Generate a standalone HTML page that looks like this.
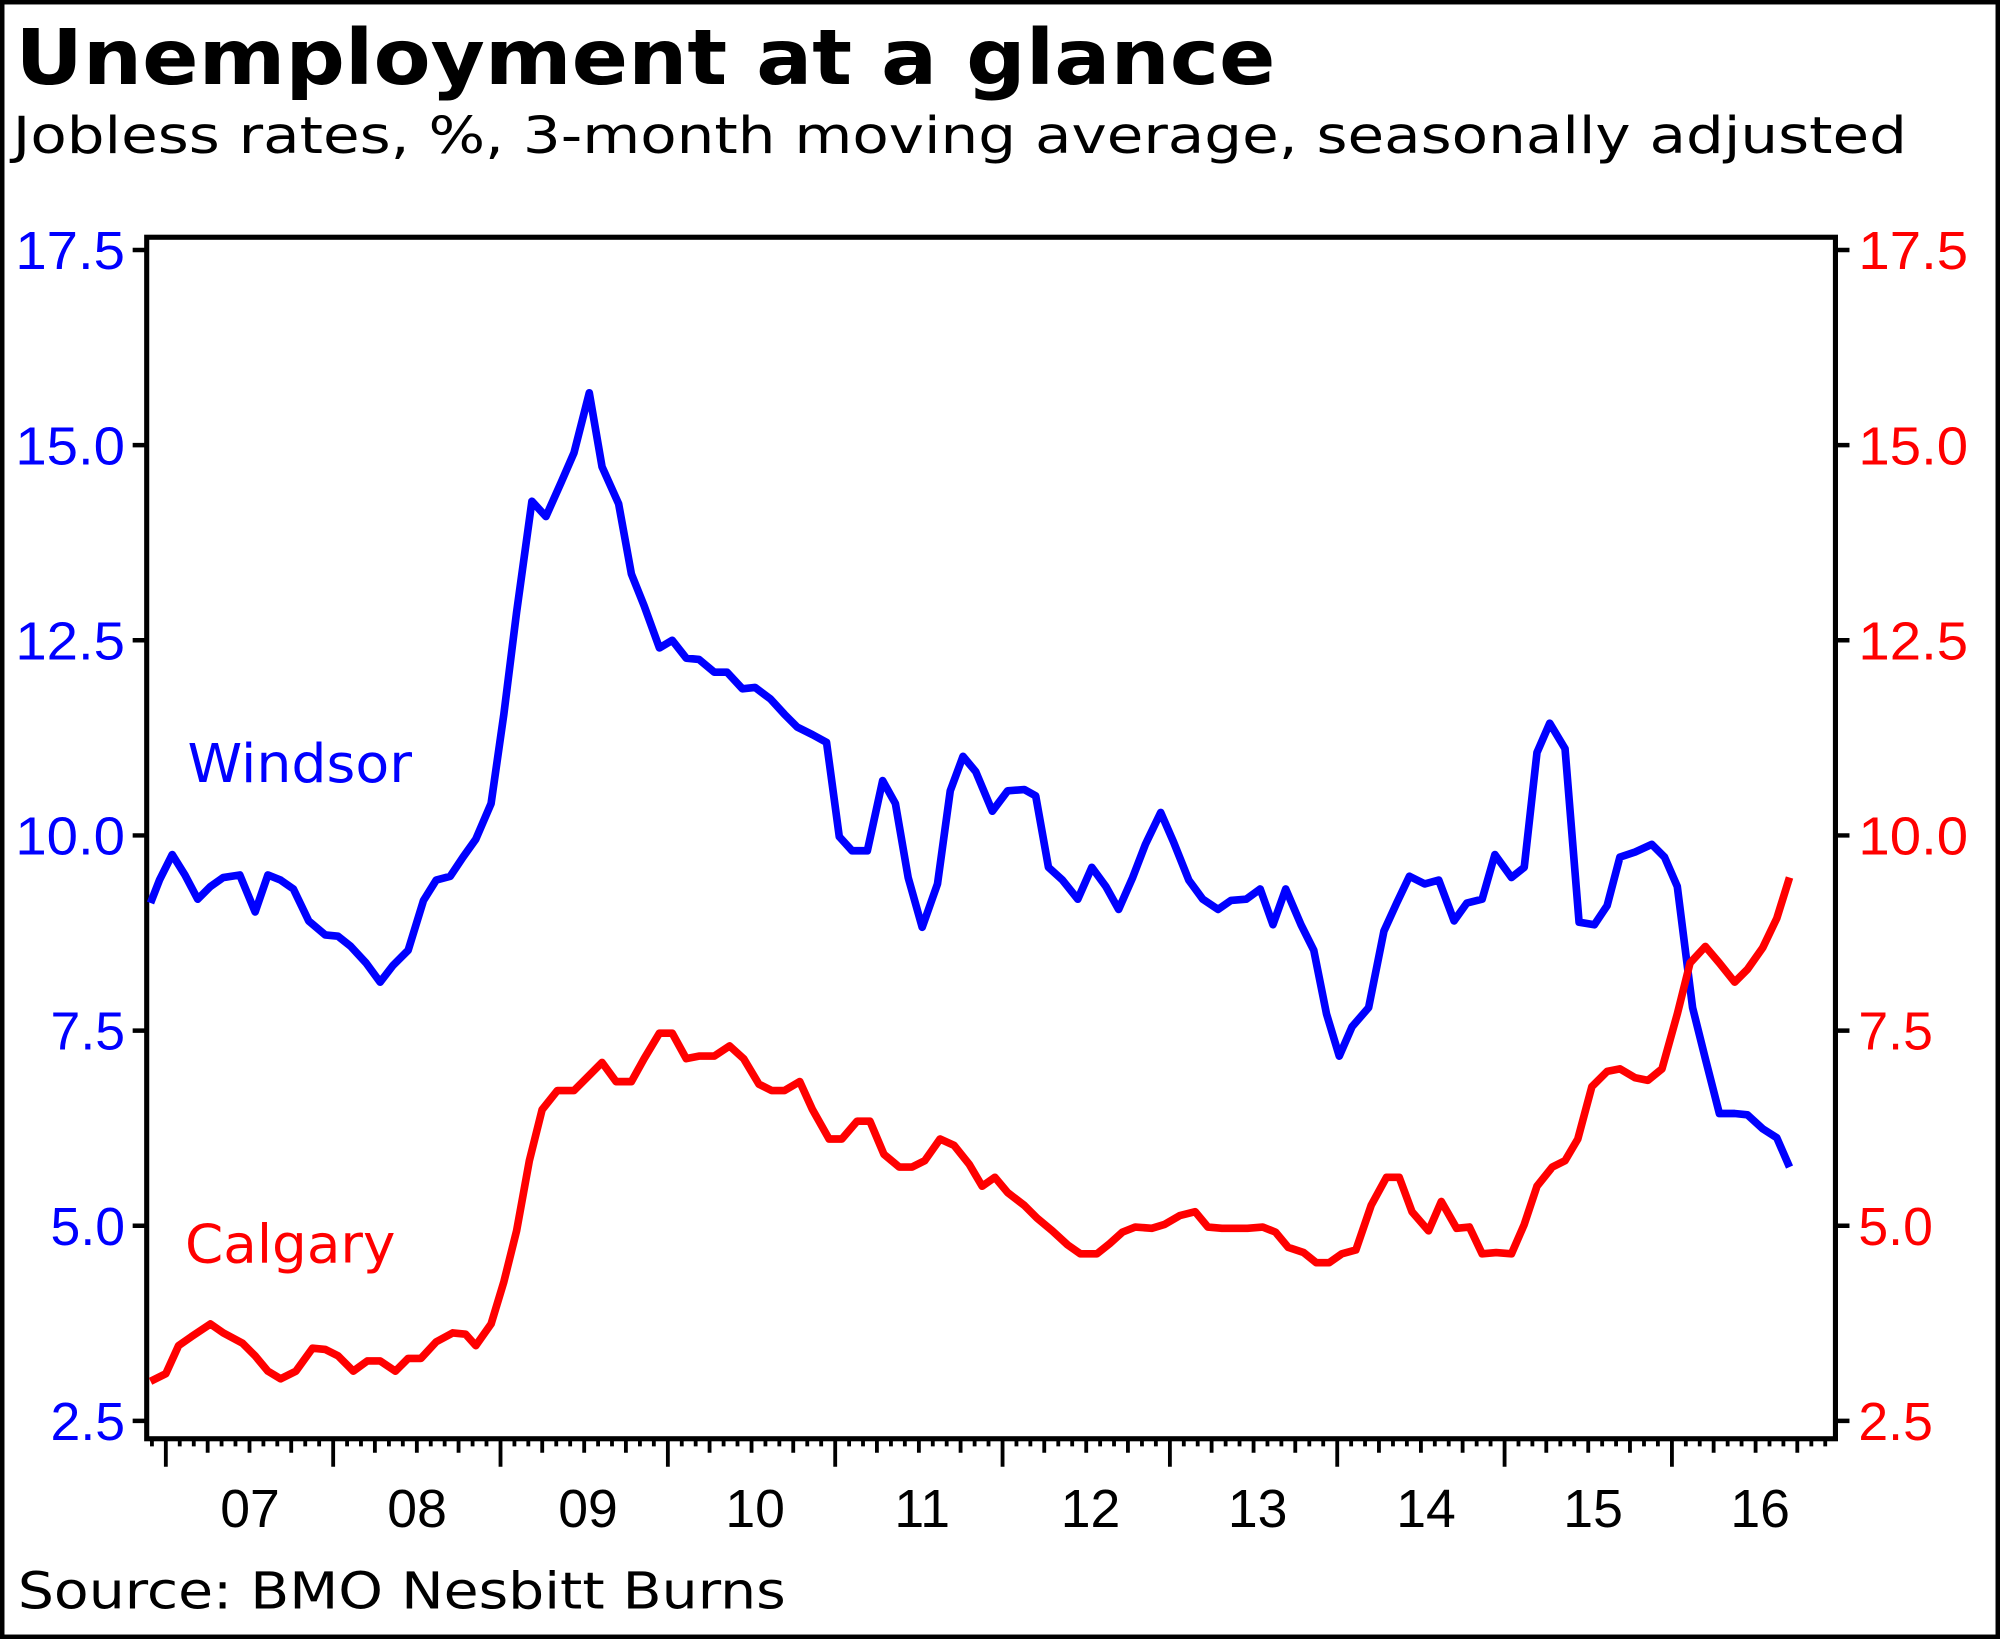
<!DOCTYPE html>
<html><head><meta charset="utf-8"><style>html,body{margin:0;padding:0;background:#fff}svg{display:block}</style></head>
<body>
<svg width="2000" height="1639" viewBox="0 0 1568 1285" xmlns="http://www.w3.org/2000/svg">
<rect x="1.5" y="1.5" width="1565" height="1282" fill="#fff" stroke="#000" stroke-width="4"/>
<text x="12" y="66" font-family="DejaVu Sans, sans-serif" font-weight="bold" font-size="60" textLength="988" lengthAdjust="spacingAndGlyphs">Unemployment at a glance</text>
<text x="10" y="120" font-family="DejaVu Sans, sans-serif" font-size="40" textLength="1485" lengthAdjust="spacingAndGlyphs">Jobless rates, %, 3-month moving average, seasonally adjusted</text>
<text x="14" y="1261" font-family="DejaVu Sans, sans-serif" font-size="40" textLength="602" lengthAdjust="spacingAndGlyphs">Source: BMO Nesbitt Burns</text>
<rect x="115" y="186" width="1324" height="942" fill="none" stroke="#000" stroke-width="4"/>
<g font-family="Liberation Sans, Arial, sans-serif" font-size="42">
<g fill="#0000ff" text-anchor="end">
<text x="98" y="211" textLength="86" lengthAdjust="spacingAndGlyphs">17.5</text><text x="98" y="364" textLength="86" lengthAdjust="spacingAndGlyphs">15.0</text><text x="98" y="517" textLength="86" lengthAdjust="spacingAndGlyphs">12.5</text><text x="98" y="670" textLength="86" lengthAdjust="spacingAndGlyphs">10.0</text><text x="98" y="823">7.5</text><text x="98" y="976">5.0</text><text x="98" y="1129">2.5</text></g>
<g fill="#ff0000">
<text x="1457" y="211" textLength="86" lengthAdjust="spacingAndGlyphs">17.5</text><text x="1457" y="364" textLength="86" lengthAdjust="spacingAndGlyphs">15.0</text><text x="1457" y="517" textLength="86" lengthAdjust="spacingAndGlyphs">12.5</text><text x="1457" y="670" textLength="86" lengthAdjust="spacingAndGlyphs">10.0</text><text x="1457" y="823">7.5</text><text x="1457" y="976">5.0</text><text x="1457" y="1129">2.5</text></g>
<g fill="#000" text-anchor="middle">
<text x="196" y="1197">07</text><text x="327" y="1197">08</text><text x="461" y="1197">09</text><text x="592" y="1197">10</text><text x="723" y="1197">11</text><text x="855" y="1197">12</text><text x="986" y="1197">13</text><text x="1118" y="1197">14</text><text x="1249" y="1197">15</text><text x="1380" y="1197">16</text></g>
</g>
<g stroke="#000" stroke-width="3.5">
<path d="M104 196H115M104 349H115M104 502H115M104 655H115M104 808H115M104 961H115M104 1114H115M1439 196H1450M1439 349H1450M1439 502H1450M1439 655H1450M1439 808H1450M1439 961H1450M1439 1114H1450"/>
</g>
<text x="147" y="613" font-family="DejaVu Sans, sans-serif" font-size="42" fill="#0000ff" textLength="176" lengthAdjust="spacingAndGlyphs">Windsor</text>
<text x="145" y="990" font-family="DejaVu Sans, sans-serif" font-size="42" fill="#ff0000" textLength="165" lengthAdjust="spacingAndGlyphs">Calgary</text>
<polyline fill="none" stroke="#0000ff" stroke-width="6" stroke-linejoin="round" points="118,708 125,690 135,670 145,686 155,705 165,695 175,688 188,686 200,715 210,686 220,690 230,697 242,722 255,733 265,734 275,742 287,755 298,770 308,757 320,745 332,706 342,690 353,687 363,672 373,658 385,630 395,560 405,480 417,393 428,405 440,378 450,355 462,308 472,366 485,395 495,450 505,475 517,508 527,502 538,516 548,517 560,527 570,527 582,540 592,539 604,548 615,560 625,570 637,576 648,582 658,656 668,667 680,667 692,612 702,630 712,688 723,727 735,693 745,620 755,593 765,605 778,636 790,620 803,619 812,624 822,680 833,690 845,705 856,680 867,695 877,713 888,688 898,662 910,637 920,660 932,690 943,705 955,713 965,706 977,705 988,697 998,725 1008,697 1020,725 1030,745 1040,795 1050,828 1060,805 1073,790 1085,730 1095,708 1105,687 1117,693 1128,690 1140,722 1150,708 1162,705 1172,670 1185,688 1195,680 1205,590 1215,567 1227,587 1238,723 1250,725 1260,710 1270,672 1282,668 1295,662 1305,672 1315,695 1327,790 1337,830 1348,873 1360,873 1370,874 1382,885 1393,892 1403,915"/>
<polyline fill="none" stroke="#ff0000" stroke-width="6" stroke-linejoin="round" points="118,1083 130,1077 140,1055 150,1048 165,1038 175,1045 190,1053 200,1063 210,1075 220,1081 232,1075 245,1057 255,1058 265,1063 277,1075 288,1067 298,1067 310,1075 320,1065 330,1065 342,1052 355,1045 365,1046 373,1055 385,1038 395,1005 405,965 415,910 425,870 437,855 450,855 460,845 472,833 483,848 495,848 505,830 517,810 527,810 538,830 548,828 560,828 572,820 583,830 595,850 605,855 615,855 627,848 637,870 650,893 660,893 672,879 682,879 693,905 705,915 715,915 725,910 737,893 748,898 760,913 770,930 780,923 790,935 803,945 813,955 825,965 837,976 847,983 860,983 870,975 880,966 890,962 903,963 913,960 925,953 937,950 947,962 958,963 968,963 978,963 990,962 1000,966 1010,978 1022,982 1032,990 1042,990 1052,983 1063,980 1075,945 1087,923 1097,923 1107,950 1120,965 1130,942 1142,963 1152,962 1162,983 1173,982 1185,983 1195,960 1205,930 1217,915 1227,910 1237,893 1248,852 1260,840 1270,838 1282,845 1292,847 1303,838 1315,795 1325,755 1337,742 1348,755 1360,770 1370,760 1382,743 1393,720 1403,688"/>
<path stroke="#000" stroke-width="3" fill="none" d="M119.1 1128v6M130 1128v22M140.9 1128v6M151.9 1128v6M162.8 1128v11M173.7 1128v6M184.6 1128v6M195.6 1128v11M206.5 1128v6M217.4 1128v6M228.3 1128v11M239.3 1128v6M250.2 1128v6M261.2 1128v22M272.1 1128v6M283 1128v6M293.9 1128v11M304.9 1128v6M315.8 1128v6M326.8 1128v11M337.7 1128v6M348.6 1128v6M359.5 1128v11M370.5 1128v6M381.4 1128v6M392.4 1128v22M403.3 1128v6M414.2 1128v6M425.1 1128v11M436.1 1128v6M447 1128v6M458 1128v11M468.9 1128v6M479.8 1128v6M490.7 1128v11M501.7 1128v6M512.6 1128v6M523.6 1128v22M534.5 1128v6M545.4 1128v6M556.3 1128v11M567.3 1128v6M578.2 1128v6M589.2 1128v11M600.1 1128v6M611 1128v6M621.9 1128v11M632.9 1128v6M643.8 1128v6M654.8 1128v22M665.7 1128v6M676.6 1128v6M687.5 1128v11M698.5 1128v6M709.4 1128v6M720.4 1128v11M731.3 1128v6M742.2 1128v6M753.1 1128v11M764.1 1128v6M775 1128v6M786 1128v22M796.9 1128v6M807.8 1128v6M818.7 1128v11M829.7 1128v6M840.6 1128v6M851.6 1128v11M862.5 1128v6M873.4 1128v6M884.3 1128v11M895.3 1128v6M906.2 1128v6M917.2 1128v22M928.1 1128v6M939 1128v6M949.9 1128v11M960.9 1128v6M971.8 1128v6M982.8 1128v11M993.7 1128v6M1004.6 1128v6M1015.5 1128v11M1026.5 1128v6M1037.4 1128v6M1048.4 1128v22M1059.3 1128v6M1070.2 1128v6M1081.1 1128v11M1092.1 1128v6M1103 1128v6M1114 1128v11M1124.9 1128v6M1135.8 1128v6M1146.7 1128v11M1157.7 1128v6M1168.6 1128v6M1179.6 1128v22M1190.5 1128v6M1201.4 1128v6M1212.3 1128v11M1223.3 1128v6M1234.2 1128v6M1245.2 1128v11M1256.1 1128v6M1267 1128v6M1277.9 1128v11M1288.9 1128v6M1299.8 1128v6M1310.8 1128v22M1321.7 1128v6M1332.6 1128v6M1343.5 1128v11M1354.5 1128v6M1365.4 1128v6M1376.4 1128v11M1387.3 1128v6M1398.2 1128v6M1409.1 1128v11M1420.1 1128v6M1431 1128v6"/>
</svg>
</body></html>
